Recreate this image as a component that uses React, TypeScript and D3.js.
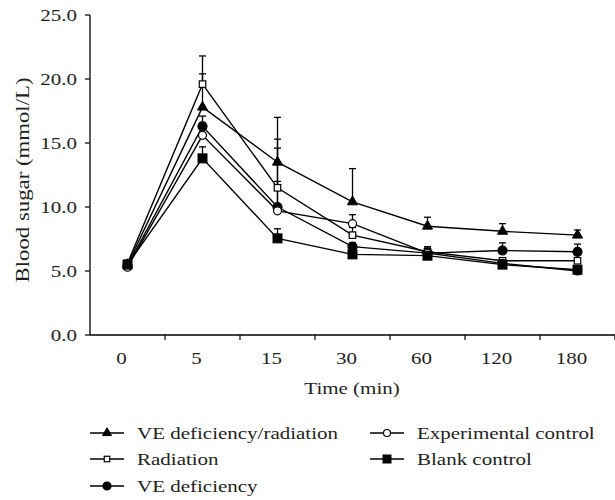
import React from 'react';
import * as d3 from 'd3';

const times = ['0', '5', '15', '30', '60', '120', '180'];
const yTicks = [0, 5, 10, 15, 20, 25];

const veDefRad = [5.5, 17.8, 13.5, 10.4, 8.5, 8.1, 7.8];
const veDefRadErr = [0.3, 2.6, 3.5, 2.6, 0.7, 0.6, 0.4];
const radiation = [5.6, 19.6, 11.5, 7.8, 6.5, 5.8, 5.8];
const radiationErr = [0.2, 2.2, 0.5, 0.6, 0.3, 0.2, 0.2];
const veDef = [5.4, 16.3, 10.0, 6.9, 6.4, 6.6, 6.5];
const veDefErr = [0.2, 0.8, 5.3, 0.3, 0.5, 0.6, 0.6];
const expControl = [5.3, 15.6, 9.7, 8.7, 6.4, 5.6, 5.0];
const expControlErr = [0.2, 1.0, 4.9, 0.7, 0.3, 0.2, 0.2];
const blank = [5.5, 13.8, 7.55, 6.3, 6.2, 5.5, 5.1];
const blankErr = [0.2, 0.9, 0.75, 0.2, 0.2, 0.2, 0.2];

type Shape = 'triangle' | 'square' | 'circle';
interface Series { name: string; values: number[]; errs: number[]; shape: Shape; filled: boolean }

const series: Series[] = [
  { name: 'VE deficiency/radiation', values: veDefRad, errs: veDefRadErr, shape: 'triangle', filled: true },
  { name: 'Radiation', values: radiation, errs: radiationErr, shape: 'square', filled: false },
  { name: 'VE deficiency', values: veDef, errs: veDefErr, shape: 'circle', filled: true },
  { name: 'Experimental control', values: expControl, errs: expControlErr, shape: 'circle', filled: false },
  { name: 'Blank control', values: blank, errs: blankErr, shape: 'square', filled: true },
];

const font = '"Liberation Serif", "DejaVu Serif", serif';
const SX = 1.2; // the original face is wider than Liberation Serif

// text drawn at (x,y), widened along its baseline around its anchor
function T({ x, y, rotate = 0, anchor = 'start', size = 17.5, children }: { x: number; y: number; rotate?: number; anchor?: string; size?: number; children: React.ReactNode }) {
  return (
    <g transform={`translate(${x},${y}) rotate(${rotate}) scale(${SX},1)`}>
      <text textAnchor={anchor} dy="0.35em" fontSize={size} fill="#231f20">{children}</text>
    </g>
  );
}

function Marker({ shape, filled, x, y, size }: { shape: Shape; filled: boolean; x: number; y: number; size: number }) {
  const fill = filled ? '#000' : '#fff';
  if (shape === 'triangle') {
    const p = d3.symbol(d3.symbolTriangle, size * size * 0.55)();
    return <path d={p || ''} transform={`translate(${x},${y})`} fill={fill} stroke="#000" strokeWidth={1} />;
  }
  if (shape === 'square') {
    const s = filled ? size : size - 1.5;
    return <rect x={x - s / 2} y={y - s / 2} width={s} height={s} fill={fill} stroke="#000" strokeWidth={filled ? 1 : 1.2} />;
  }
  return <circle cx={x} cy={y} r={filled ? size / 2 : size / 2 - 0.5} fill={fill} stroke="#000" strokeWidth={1.2} />;
}

export default function App() {
  const width = 615;
  const height = 500;
  const left = 90, right = 615, top = 15, bottom = 335;

  const x = d3.scaleBand<string>().domain(times).range([left, right]);
  const y = d3.scaleLinear().domain([0, 25]).range([bottom, top]);
  const cx = (t: string) => (x(t) as number) + x.bandwidth() / 2;

  const line = d3.line<number>()
    .x((_, i) => cx(times[i]))
    .y(d => y(d));

  const legendItems = [
    { s: series[0], lx: 90, ly: 433 },
    { s: series[1], lx: 90, ly: 459 },
    { s: series[2], lx: 90, ly: 486 },
    { s: series[3], lx: 370, ly: 433 },
    { s: series[4], lx: 370, ly: 459 },
  ];

  return (
    <svg width={width} height={height} style={{ position: 'absolute', left: 0, top: 0, background: '#fff' }} fontFamily={font}>
      {/* axes */}
      <line x1={left} x2={left} y1={top} y2={bottom} stroke="#000" strokeWidth={1.3} />
      <line x1={left} x2={right} y1={bottom} y2={bottom} stroke="#000" strokeWidth={1.3} />
      {yTicks.map(t => (
        <g key={t}>
          <line x1={left - 5} x2={left} y1={y(t)} y2={y(t)} stroke="#000" strokeWidth={1.2} />
          <T x={77} y={y(t)} anchor="end">{t.toFixed(1)}</T>
        </g>
      ))}
      {times.map(t => (
        <g key={t}>
          <line x1={(x(t) as number) + x.bandwidth()} x2={(x(t) as number) + x.bandwidth()} y1={bottom} y2={bottom + 5} stroke="#000" strokeWidth={1.2} />
          <T x={cx(t) - 6} y={bottom + 23} anchor="middle">{t}</T>
        </g>
      ))}
      <T x={352} y={388} anchor="middle">Time (min)</T>
      <T x={22} y={180} rotate={-90} anchor="middle" size={19}>Blood sugar (mmol/L)</T>

      {/* error bars */}
      {series.map(s => (
        <g key={s.name + 'err'}>
          {s.values.map((v, i) => {
            const px = cx(times[i]);
            const yt = y(v + s.errs[i]);
            return (
              <g key={i}>
                <line x1={px} x2={px} y1={y(v)} y2={yt} stroke="#000" strokeWidth={1.3} />
                <line x1={px - 3.5} x2={px + 3.5} y1={yt} y2={yt} stroke="#000" strokeWidth={1.3} />
              </g>
            );
          })}
        </g>
      ))}

      {/* lines */}
      {series.map(s => (
        <path key={s.name} d={line(s.values) || ''} fill="none" stroke="#000" strokeWidth={1.4} />
      ))}

      {/* markers */}
      {series.map(s => (
        <g key={s.name + 'm'}>
          {s.values.map((v, i) => (
            <Marker key={i} shape={s.shape} filled={s.filled} x={cx(times[i])} y={y(v)} size={s.shape === 'square' && !s.filled ? 8 : 9} />
          ))}
        </g>
      ))}

      {/* legend */}
      {legendItems.map(({ s, lx, ly }) => (
        <g key={s.name + 'lg'}>
          <line x1={lx} x2={lx + 34} y1={ly} y2={ly} stroke="#000" strokeWidth={1.4} />
          <Marker shape={s.shape} filled={s.filled} x={lx + 17} y={ly} size={s.shape === 'square' && !s.filled ? 7 : 8} />
          <T x={lx + 47} y={ly}>{s.name}</T>
        </g>
      ))}
    </svg>
  );
}
